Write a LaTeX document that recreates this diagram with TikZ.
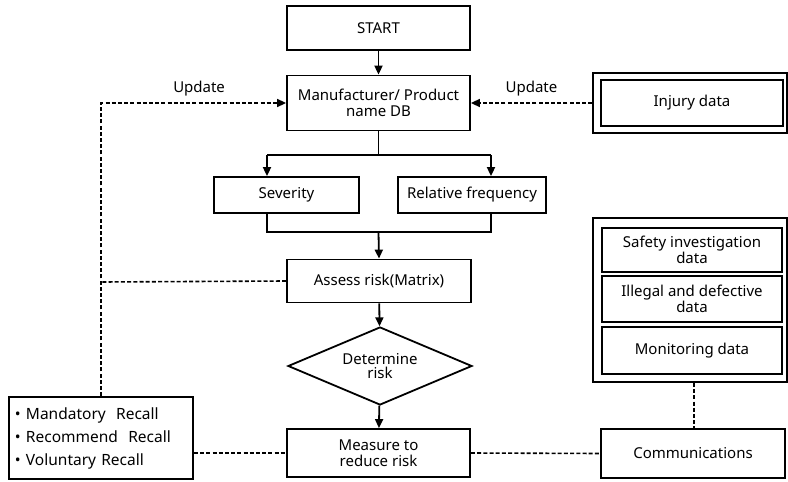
\documentclass[tikz,border=0pt]{standalone}
\usepackage{fontspec}
\setmainfont{Noto Sans}
\usetikzlibrary{arrows.meta,shapes.geometric}
\begin{document}
\begin{tikzpicture}[x=1pt,y=-1pt,
  lw/.style={line width=1.8pt},
  fnt/.style={font=\fontsize{15}{16}\selectfont},
  box/.style={draw,lw,inner sep=0pt,align=center,fnt},
  arr/.style={lw,-{Triangle[length=9pt,width=8pt]}},
  dsh/.style={line width=1.6pt,dash pattern=on 4pt off 2.2pt},
  darr/.style={dsh,-{Triangle[length=9pt,width=8pt]}},
  lbl/.style={fnt}]
\useasboundingbox (0,0) rectangle (788,482);
% main column
\node[box,minimum width=183pt,minimum height=44pt] (start) at (378.5,28) {START};
\node[box,minimum width=183pt,minimum height=55pt] (db) at (378.5,103) {Manufacturer/ Product\\name DB};
\node[box,minimum width=145pt,minimum height=36pt] (sev) at (286.5,195) {Severity};
\node[box,minimum width=148pt,minimum height=36pt] (rel) at (472,195) {Relative frequency};
\node[box,minimum width=184pt,minimum height=43pt] (assess) at (379,281) {Assess risk(Matrix)};
\node[draw,lw,diamond,aspect=2.36,minimum width=184pt,minimum height=78pt,inner sep=0pt,align=center,fnt] (det) at (380,366) {Determine\\[-2pt]risk};
\node[box,minimum width=183pt,minimum height=48pt] (meas) at (378.5,453) {Measure to\\reduce risk};
% recall box
\node[draw,lw,text width=172pt,inner xsep=6pt,minimum height=82pt,align=left,font=\fontsize{15.5}{23}\selectfont] (recall) at (101,438)
  {\textbullet\ Mandatory\ \ Recall\\\textbullet\ Recommend\ \ Recall\\\textbullet\ Voluntary Recall};
% injury data
\node[draw,lw,minimum width=194pt,minimum height=60pt,inner sep=0pt] (injout) at (690,103) {};
\node[box,minimum width=182pt,minimum height=46pt] (inj) at (692,103) {Injury data};
% data group
\node[draw,lw,minimum width=194pt,minimum height=164pt,inner sep=0pt] (grp) at (690,300) {};
\node[box,minimum width=180pt,minimum height=44pt,font=\fontsize{15}{14}\selectfont] (saf) at (692,250) {Safety investigation\\data};
\node[box,minimum width=180pt,minimum height=46pt,font=\fontsize{15}{14}\selectfont] (ill) at (692,299) {Illegal and defective\\data};
\node[box,minimum width=180pt,minimum height=47pt] (mon) at (692,350.5) {Monitoring data};
\node[box,minimum width=184pt,minimum height=49pt] (comm) at (693,453.5) {Communications};
% coordinates
\coordinate (split) at (378.5,155);
\coordinate (sl) at (267,155);
\coordinate (sr) at (491,155);
\coordinate (ml) at (267,232);
\coordinate (mr) at (491,232);
\coordinate (merge) at (378.5,232);
\coordinate (lc) at (101,103);
\coordinate (la) at (101,282);
\coordinate (cx) at (694,0);
% solid arrows
\draw[arr] (start) -- (db);
\draw[lw] (db.south) -- (split);
\draw[arr] (sl) -- (sl |- sev.north);
\draw[arr] (sr) -- (sr |- rel.north);
\draw[lw] (sl) -- (sr);
\draw[lw] (sl |- sev.south) -- (ml) -- (mr) -- (mr |- rel.south);
\draw[arr] (merge) -- (assess.north);
\draw[arr] (assess) -- (det);
\draw[arr] (det) -- (meas);
% dashed
\draw[darr] (injout.west) -- (db.east) node[midway,above=3pt,lbl]{Update};
\draw[darr] (recall.north -| lc) -- (lc) -- (db.west) node[pos=0.53,above=3pt,lbl]{Update};
\draw[dsh] (assess.west) -- (la);
\draw[dsh] (recall.east |- meas) -- (meas.west);
\draw[dsh] (meas.east) -- (comm.west);
\draw[dsh] (grp.south -| cx) -- (comm.north -| cx);
\end{tikzpicture}
\end{document}
